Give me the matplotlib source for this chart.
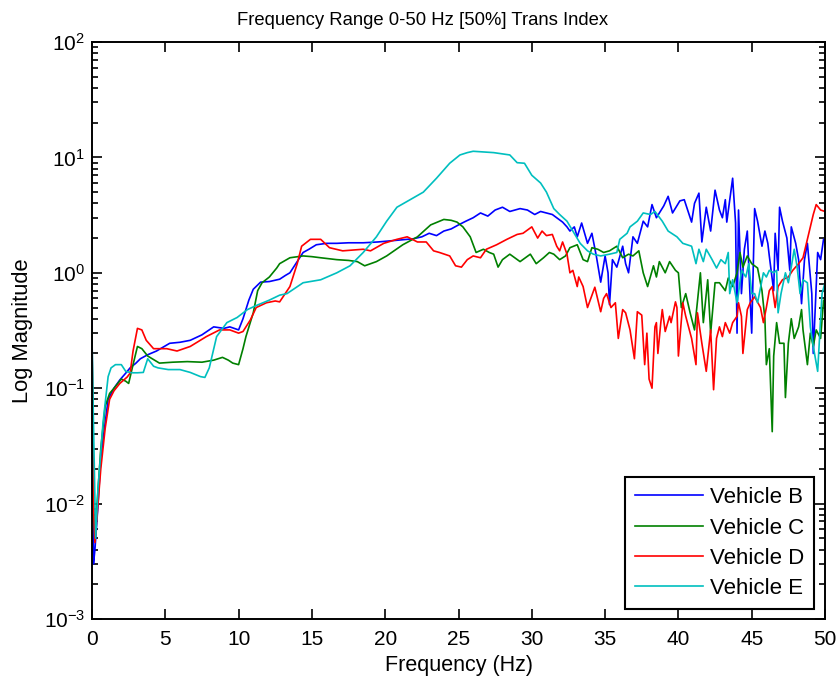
import matplotlib
matplotlib.use("Agg")
import matplotlib.pyplot as plt
from matplotlib.ticker import LogLocator, MultipleLocator, NullFormatter

plt.rcParams['font.family'] = ['Liberation Sans', 'DejaVu Sans']
plt.rcParams['mathtext.fontset'] = 'custom'
plt.rcParams['mathtext.rm'] = 'Liberation Sans'
plt.rcParams['mathtext.it'] = 'Liberation Sans'

title = "Frequency Range 0-50 Hz [50%] Trans Index"
xlabel = "Frequency (Hz)"
ylabel = "Log Magnitude"
labels = ["Vehicle B", "Vehicle C", "Vehicle D", "Vehicle E"]
colors = ["#0000ff", "#008000", "#ff0000", "#00bfbf"]

fB = [0, 0.1, 0.2, 0.4, 0.6, 0.9, 1.1, 1.5, 1.9, 2.3, 2.6, 3.0, 3.3, 3.8, 4.4, 5.3, 6.0, 6.7, 7.5, 8.3,
      9.0, 9.4, 10.0, 10.3, 10.7, 11.0, 11.5, 12.1, 12.8, 13.2, 13.5, 14.0, 14.4, 14.8, 15.3, 16.0, 16.7,
      17.5, 18.5, 19.5, 20.5, 21.9, 22.5, 23.0, 23.5, 24.0, 24.5, 25.0, 25.5, 26.0, 26.5, 27.0, 27.5, 28.0,
      28.5, 29.2, 29.7, 30.2, 30.6, 31.0, 31.4, 31.7, 32.1, 32.4, 32.6, 32.9, 33.1, 33.4, 33.8, 34.1, 34.4,
      34.7, 35.0, 35.2, 35.3, 35.5, 35.8, 36.2, 36.4, 36.6, 36.9, 37.2, 37.6, 37.9, 38.2, 38.5, 38.7, 39.0,
      39.3, 39.6, 40.1, 40.4, 40.9, 41.1, 41.4, 41.6, 41.9, 42.2, 42.5, 42.8, 43.0, 43.2, 43.3, 43.7, 43.9,
      44.0, 44.1, 44.3, 44.5, 44.7, 44.9, 45.0, 45.2, 45.4, 45.7, 45.9, 46.1, 46.2, 46.5, 46.6, 46.8, 46.9,
      47.1, 47.4, 47.6, 47.7, 48.0, 48.2, 48.4, 48.6, 48.8, 49.1, 49.2, 49.5, 49.7, 49.9, 50.0]
vB = [0.4, 0.003, 0.004, 0.0093, 0.025, 0.05, 0.08, 0.10, 0.118, 0.135, 0.15, 0.165, 0.18, 0.195, 0.21,
      0.245, 0.25, 0.26, 0.29, 0.34, 0.33, 0.34, 0.32, 0.40, 0.58, 0.72, 0.83, 0.84, 0.88, 0.95, 1.0, 1.25,
      1.5, 1.6, 1.75, 1.8, 1.8, 1.82, 1.82, 1.85, 1.9, 1.97, 2.05, 2.2, 2.1, 2.3, 2.4, 2.6, 2.8, 3.0, 3.3,
      3.1, 3.5, 3.7, 3.4, 3.6, 3.5, 3.2, 3.4, 3.3, 3.2, 3.0, 2.75, 2.5, 2.3, 2.5, 2.05, 2.7, 1.8, 2.2, 1.4,
      0.83, 1.4, 1.0, 0.53, 1.3, 1.12, 1.7, 1.2, 1.0, 2.05, 1.8, 2.8, 2.5, 3.9, 3.0, 3.3, 3.8, 4.6, 3.3,
      4.2, 4.3, 2.75, 4.0, 4.9, 1.85, 3.7, 2.3, 5.2, 3.5, 3.0, 4.3, 2.75, 6.6, 2.7, 0.30, 3.5, 0.66, 1.6,
      2.3, 0.57, 0.3, 3.6, 2.8, 1.7, 2.3, 1.8, 1.4, 0.7, 2.2, 1.05, 3.7, 2.8, 2.0, 1.05, 2.5, 1.8, 1.3,
      0.54, 1.3, 1.8, 0.66, 0.2, 1.5, 1.3, 1.95, 1.9]

fC = [0, 0.1, 0.2, 0.35, 0.6, 0.9, 1.2, 1.5, 2.0, 2.3, 2.5, 2.8, 3.1, 3.4, 3.8, 4.6, 5.5, 6.5, 7.5, 8.3,
      8.9, 9.3, 9.6, 10.0, 10.3, 10.5, 11.0, 11.3, 11.6, 12.1, 12.6, 12.8, 13.5, 14.4, 15.0, 15.6, 16.7,
      17.5, 18.1, 18.6, 19.4, 20.1, 21.2, 22.2, 23.1, 24.0, 24.5, 24.9, 25.3, 25.8, 26.2, 26.7, 27.1, 27.4,
      27.7, 28.0, 28.5, 29.2, 29.9, 30.3, 30.8, 31.2, 31.5, 31.9, 32.3, 32.6, 33.1, 33.5, 33.8, 34.1, 34.5,
      34.9, 35.3, 35.8, 36.2, 36.6, 36.9, 37.3, 37.6, 37.9, 38.3, 38.5, 38.7, 39.1, 39.4, 39.8, 40.0, 40.2,
      40.5, 40.8, 41.1, 41.5, 41.7, 42.0, 42.2, 42.5, 42.8, 43.2, 43.4, 43.7, 44.0, 44.2, 44.4, 44.7, 45.0,
      45.4, 45.7, 45.9, 46.0, 46.2, 46.4, 46.5, 46.7, 46.9, 47.2, 47.3, 47.5, 47.7, 47.9, 48.2, 48.4, 48.5,
      48.8, 49.0, 49.2, 49.4, 49.7, 49.9, 50.0]
vC = [0.32, 0.01, 0.0048, 0.01, 0.03, 0.07, 0.09, 0.10, 0.12, 0.115, 0.11, 0.16, 0.23, 0.22, 0.19, 0.165,
      0.168, 0.17, 0.168, 0.175, 0.185, 0.175, 0.165, 0.16, 0.22, 0.28, 0.45, 0.7, 0.82, 0.92, 1.1, 1.2,
      1.35, 1.4, 1.38, 1.35, 1.3, 1.28, 1.25, 1.15, 1.25, 1.4, 1.75, 2.05, 2.6, 2.9, 2.85, 2.75, 2.5, 2.05,
      1.5, 1.6, 1.5, 1.45, 1.12, 1.3, 1.45, 1.25, 1.45, 1.2, 1.35, 1.5, 1.45, 1.3, 1.4, 1.65, 1.75, 1.3,
      1.25, 1.65, 1.6, 1.5, 1.55, 1.7, 1.35, 1.45, 1.4, 1.55, 1.0, 0.76, 1.15, 0.92, 1.25, 1.0, 1.25, 1.05,
      1.0, 0.5, 0.66, 0.45, 0.32, 1.0, 0.37, 0.87, 0.3, 0.82, 0.82, 0.7, 0.9, 0.76, 1.0, 1.5, 1.12, 1.4,
      1.2, 1.1, 0.7, 0.4, 0.16, 0.22, 0.042, 0.19, 0.37, 0.245, 0.245, 0.083, 0.245, 0.4, 0.27, 0.34, 0.48,
      0.32, 0.16, 0.3, 0.23, 0.32, 0.27, 0.57, 0.6]

fD = [0, 0.1, 0.2, 0.35, 0.6, 0.9, 1.2, 1.5, 1.9, 2.4, 2.6, 2.8, 3.1, 3.4, 3.7, 4.2, 5.1, 5.8, 6.7, 7.8,
      8.7, 9.4, 10.0, 10.3, 10.8, 11.2, 11.9, 12.5, 12.8, 13.5, 14.0, 14.3, 14.9, 15.6, 16.2, 17.1, 18.0,
      18.5, 19.0, 19.9, 20.8, 21.5, 22.2, 22.8, 23.3, 23.7, 24.4, 24.8, 25.2, 25.6, 26.0, 26.5, 26.9, 27.6,
      28.3, 29.0, 29.4, 30.0, 30.4, 30.7, 31.0, 31.4, 31.7, 31.9, 32.1, 32.4, 32.6, 32.8, 33.1, 33.2, 33.5,
      33.8, 34.3, 34.7, 34.9, 35.1, 35.4, 35.7, 35.9, 36.2, 36.4, 36.7, 37.0, 37.2, 37.5, 37.7, 37.85, 38.0,
      38.2, 38.4, 38.5, 38.6, 38.8, 38.9, 39.1, 39.4, 39.5, 39.8, 39.9, 40.0, 40.3, 40.5, 40.9, 41.2, 41.3,
      41.6, 41.9, 42.2, 42.4, 42.6, 42.8, 43.0, 43.2, 43.5, 43.7, 44.0, 44.1, 44.3, 44.4, 44.7, 44.9, 45.2,
      45.6, 45.8, 46.0, 46.2, 46.4, 46.6, 46.8, 47.1, 47.5, 47.8, 48.2, 48.5, 48.8, 49.0, 49.2, 49.4, 49.7,
      50.0]
vD = [0.25, 0.01, 0.0046, 0.008, 0.02, 0.045, 0.08, 0.095, 0.11, 0.125, 0.135, 0.21, 0.33, 0.32, 0.26,
      0.22, 0.22, 0.21, 0.23, 0.28, 0.32, 0.32, 0.30, 0.31, 0.39, 0.5, 0.55, 0.57, 0.56, 0.76, 1.2, 1.7,
      1.95, 1.95, 1.65, 1.55, 1.58, 1.6, 1.55, 1.8, 1.95, 2.05, 1.85, 1.85, 1.55, 1.5, 1.4, 1.15, 1.12, 1.3,
      1.4, 1.35, 1.6, 1.75, 1.95, 2.15, 2.2, 2.5, 2.0, 2.3, 2.1, 2.15, 1.7, 1.55, 1.85, 1.45, 1.0, 1.05,
      0.76, 0.92, 0.76, 0.5, 0.75, 0.46, 0.6, 0.66, 0.5, 0.55, 0.27, 0.48, 0.45, 0.32, 0.18, 0.46, 0.43,
      0.16, 0.3, 0.12, 0.1, 0.34, 0.37, 0.2, 0.37, 0.48, 0.31, 0.42, 0.37, 0.56, 0.5, 0.19, 0.55, 0.42,
      0.27, 0.16, 0.45, 0.245, 0.14, 0.32, 0.097, 0.27, 0.34, 0.28, 0.37, 0.3, 0.37, 0.42, 0.55, 0.42, 0.2,
      0.48, 0.55, 0.62, 0.5, 0.37, 0.5, 0.7, 0.76, 0.5, 0.76, 0.87, 0.92, 1.05, 1.2, 1.35, 1.95, 2.5, 3.2,
      3.9, 3.5, 3.4]

fE = [0, 0.1, 0.25, 0.4, 0.75, 1.1, 1.3, 1.6, 2.0, 2.3, 2.7, 3.1, 3.5, 3.8, 4.2, 4.5, 5.2, 6.0, 6.7, 7.4,
      7.7, 8.0, 8.5, 9.2, 9.9, 10.6, 11.2, 12.1, 12.8, 13.3, 14.4, 15.6, 16.7, 17.6, 18.5, 19.4, 20.1, 20.8,
      21.7, 22.6, 23.5, 24.4, 25.1, 25.6, 26.0, 27.4, 28.5, 29.0, 29.5, 30.0, 30.6, 31.0, 31.5, 31.9, 32.4,
      32.8, 33.3, 33.8, 34.2, 34.7, 35.3, 35.8, 36.0, 36.5, 36.7, 37.2, 37.6, 38.1, 38.4, 38.9, 39.3, 39.9,
      40.3, 40.9, 41.2, 41.4, 41.7, 41.9, 42.3, 42.6, 42.9, 43.2, 43.4, 43.5, 43.7, 44.0, 44.1, 44.3, 44.6,
      44.8, 45.0, 45.2, 45.4, 45.8, 46.0, 46.2, 46.5, 46.7, 46.8, 47.0, 47.3, 47.5, 47.7, 47.9, 48.1, 48.3,
      48.5, 48.8, 49.0, 49.2, 49.5, 49.7, 49.8, 50.0]
vE = [0.26, 0.05, 0.005, 0.013, 0.05, 0.126, 0.15, 0.16, 0.16, 0.14, 0.136, 0.136, 0.137, 0.18, 0.155,
      0.15, 0.145, 0.145, 0.137, 0.126, 0.124, 0.15, 0.28, 0.37, 0.41, 0.48, 0.52, 0.58, 0.64, 0.66, 0.82,
      0.87, 1.0, 1.15, 1.5, 2.05, 2.8, 3.7, 4.3, 5.0, 6.6, 8.9, 10.5, 11.0, 11.3, 11.0, 10.5, 9.0, 8.9, 7.0,
      6.0, 5.0, 3.6, 3.2, 2.8, 2.3, 1.8, 1.55, 1.45, 1.4, 1.45, 1.5, 1.95, 2.2, 2.5, 2.8, 3.3, 3.2, 3.4,
      2.8, 2.3, 2.05, 1.8, 1.7, 1.2, 1.6, 1.25, 1.6, 1.3, 1.1, 1.3, 1.2, 1.5, 0.66, 0.87, 0.55, 0.66, 1.05,
      0.92, 1.2, 0.66, 0.66, 0.55, 1.0, 0.92, 1.05, 1.0, 1.05, 0.45, 0.66, 1.0, 0.82, 1.12, 1.6, 1.12, 0.66,
      0.87, 0.82, 0.34, 0.23, 0.14, 0.4, 0.66, 0.82]

fig = plt.figure(figsize=(8.38, 6.84), dpi=100)
ax = fig.add_axes([92/838, 1 - 619/684, 733/838, 577/684])

for f, v, lab, c in zip([fB, fC, fD, fE], [vB, vC, vD, vE], labels, colors):
    ax.plot(f, v, color=c, lw=1.2, label=lab)

ax.set_yscale('log')
ax.set_xlim(0, 50)
ax.set_ylim(1e-3, 1e2)
ax.xaxis.set_major_locator(MultipleLocator(5))
ax.yaxis.set_major_locator(LogLocator(base=10, numticks=10))
ax.yaxis.set_minor_locator(LogLocator(base=10, subs=range(2, 10), numticks=20))
ax.yaxis.set_minor_formatter(NullFormatter())
ax.tick_params(which='both', direction='in', top=True, right=True, labelsize=15, width=1.2)
ax.tick_params(which='major', length=7)
ax.tick_params(which='minor', length=4)
ax.tick_params(axis='x', pad=8)
ax.tick_params(axis='y', pad=5)
for s in ax.spines.values():
    s.set_linewidth(1.4)

ax.set_title(title, fontsize=13.3, pad=12, x=(423 - 92) / 733)
ax.set_xlabel(xlabel, fontsize=15.5)
ax.set_ylabel(ylabel, fontsize=15.8)
ax.xaxis.set_label_coords(0.5, (619 - 655) / 577)
ax.yaxis.set_label_coords((33 - 92) / 733, 0.5)

leg = ax.legend(loc='lower right', bbox_to_anchor=(0.985, 0.017), fontsize=16, fancybox=False,
                edgecolor='black', framealpha=1, handlelength=3.05, borderpad=0.45, labelspacing=0.42,
                handletextpad=0.3, borderaxespad=0)
leg.get_frame().set_linewidth(1.5)

fig.savefig("out.png", dpi=100)
